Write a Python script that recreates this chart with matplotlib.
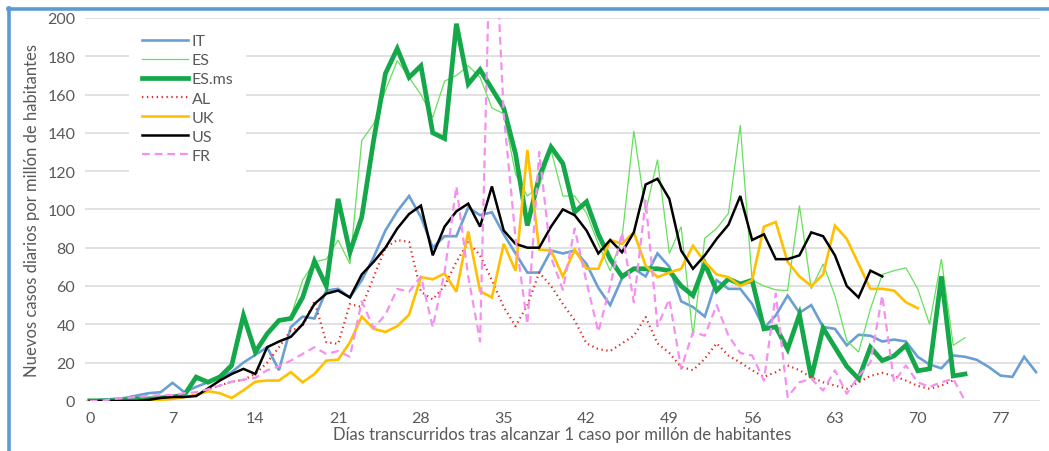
import matplotlib
matplotlib.use("Agg")
import matplotlib.pyplot as plt
from matplotlib.lines import Line2D

plt.rcParams["font.family"] = ["Lato", "DejaVu Sans"]

# días desde 1 caso por millón
it = [0, 0.5, 1, 1.5, 2.8, 4, 4.5, 9.4, 4.5, 7.3,
      9.7, 12, 15, 20, 24, 28, 16, 38.5, 44, 43,
      57.6, 58.5, 54, 63, 75, 89, 99, 107, 96, 80,
      86, 86, 101, 97, 98.5, 87, 77, 67, 67, 78.5,
      77, 78.5, 71.5, 59, 50, 64, 69, 65, 77, 70,
      52, 49, 44, 63, 58.5, 58.5, 50.6, 38, 44.6, 55,
      46, 50, 38.6, 37.6, 29, 34.5, 34, 31, 32, 31,
      23, 19, 17, 23.7, 23, 21.4, 17.7, 13.2, 12.5, 23, 15]
es = [0, 0, 0, 0.5, 1, 1, 1.5, 2, 3, 11,
      10, 12, 17, 43, 26, 35, 41, 44, 63, 72.6,
      74, 84, 71.5, 136, 144.6, 162, 177.7, 169, 160, 148,
      167, 170, 175, 169, 153, 150, 118.5, 107, 112, 131,
      107, 107, 98, 82, 68, 85, 141, 98.6, 126, 77,
      91, 34, 85, 90, 98, 144, 63, 60, 58, 57.6,
      102, 58.5, 71.5, 55, 31.5, 25.5, 48, 66, 68, 69.5,
      58.5, 40, 74, 29, 33]
es_ms = [0, 0, 0, 0.5, 1, 1, 1.5, 2, 3, 12.4,
         9.7, 12.5, 18.5, 44.6, 25.5, 35, 42, 43, 54, 73,
         60, 105.5, 77.6, 96, 136, 171, 184, 169, 175, 140,
         137, 197, 165.5, 173, 163, 153, 129, 91.6, 117, 132.6,
         124, 98.6, 104, 87, 74, 65, 69, 69, 69, 68,
         60, 55, 71.5, 57.6, 63.7, 61, 63, 37.6, 38.6, 27,
         45, 12, 38, 28, 18, 11.5, 28, 21, 23.5, 29,
         15.7, 16.7, 65, 13, 14]
al = [0, 0, 0, 0, 0, 0.5, 1, 1.5, 2, 3,
      6, 8, 10, 11, 14, 20, 28, 36.7, 39, 52,
      30.6, 29.8, 50.6, 49, 64.6, 80, 84, 83, 57, 53,
      60, 72.6, 83, 76, 63, 49, 39, 50, 67, 60,
      50.6, 42, 30, 27, 26, 30, 34, 43.7, 30, 25,
      17.7, 16, 22, 30, 23.7, 20, 16, 12.5, 15, 18.5,
      16, 12.3, 9.7, 8, 6.3, 9.7, 13, 14.6, 13, 10.6,
      7.8, 6.3, 8, 10.6]
uk = [0, 0, 0, 0, 0, 0, 0.5, 1, 2, 3,
      5, 4, 1.5, 5.5, 10, 10.6, 10.6, 15, 9.7, 14,
      21, 21.5, 30.6, 44, 37.6, 36, 39, 45, 64.6, 63.5,
      66.5, 57, 88.5, 57.3, 54, 82, 68, 131, 79, 78.5,
      65, 79, 69, 69, 84, 82, 88, 70.6, 64.6, 67,
      69, 81, 72.6, 66, 64.6, 60, 63, 91, 93.4, 72.6,
      65, 60, 66, 91.5, 84.6, 71.5, 58.5, 58.5, 57.6, 51.5,
      48.4]
us = [0, 0, 0, 0, 0, 0.5, 1.5, 2, 2, 2.5,
      6.5, 10.6, 14, 16.7, 14, 28, 31, 33.4, 40, 50.6,
      56, 57.6, 54, 66, 72.6, 80, 90, 97.6, 102, 76,
      91, 99, 103, 91, 112, 89, 82, 80, 80, 91,
      100, 97, 89, 77, 84, 77.6, 88, 113, 116, 105.5,
      78.5, 69, 76, 84.6, 92, 107, 84, 87, 74, 74,
      76, 88, 86, 76, 60, 54, 68, 65]
fr = [0, 0, 1, 1.5, 2, 2.5, 3, 3, 4, 4.5,
      6, 8, 10, 11, 12, 16, 18, 21, 24.5, 28,
      24.5, 26, 23, 52, 38, 45, 58.5, 57, 65, 38.5,
      67, 112, 65, 31, 280, 150, 85, 40, 130, 75,
      58, 90, 62, 36, 60, 88, 51.5, 104.6, 39, 53,
      16.7, 36, 34, 50, 34, 25, 23.7, 10.6, 56, 2,
      9.7, 11.5, 5.4, 16, 3.7, 13, 20, 55, 9.7, 18.5,
      9.7, 7.3, 9.7, 11.5, 0]

series = [
    ("IT", it, dict(color="#6A9FD3", lw=1.9)),
    ("ES", es, dict(color="#66E05C", lw=0.9)),
    ("ES.ms", es_ms, dict(color="#14A84A", lw=3.4)),
    ("AL", al, dict(color="#E02A22", lw=1.6, linestyle=(0, (0.6, 1.6)))),
    ("UK", uk, dict(color="#FFC000", lw=1.9)),
    ("US", us, dict(color="black", lw=1.8)),
    ("FR", fr, dict(color="#F490F0", lw=1.6, linestyle=(0, (3.5, 2.2)))),
]

gray = "#595959"
fig = plt.figure(figsize=(10.49, 4.52), dpi=100)
ax = fig.add_axes([0.081, 0.111, 0.91, 0.847])

for name, vals, style in series:
    ax.plot(range(len(vals)), vals, label=name, solid_joinstyle="miter", **style)

ax.set_xlim(-0.4, 80.3)
ax.set_ylim(0, 200)
ax.set_xticks(range(0, 78, 7))
ax.set_yticks(range(0, 201, 20))
ax.grid(axis="y", color="#D9D9D9", lw=1.1)
ax.set_axisbelow(True)
for s in ax.spines.values():
    s.set_visible(False)
ax.tick_params(length=0, colors=gray, labelsize=11.5, pad=7)

ax.set_ylabel("Nuevos casos diarios por millón de habitantes", color=gray, fontsize=12, labelpad=5)
ax.set_xlabel("Días transcurridos tras alcanzar 1 caso por millón de habitantes", color=gray, fontsize=12, labelpad=1)

leg = ax.legend(loc="upper left", bbox_to_anchor=(0.123, 0.951), bbox_transform=fig.transFigure,
                frameon=True, facecolor="white", edgecolor="none", framealpha=1,
                fontsize=11.5, handlelength=2.9, handletextpad=0.22, labelspacing=0.31,
                borderpad=0.8, borderaxespad=0)
for t in leg.get_texts():
    t.set_color(gray)

# marco azul
fig.add_artist(Line2D([0.0085, 0.0085], [0, 0.98], transform=fig.transFigure, color="#5B9BD5", lw=2.6))
fig.add_artist(Line2D([0.0075, 1], [0.978, 0.978], transform=fig.transFigure, color="#5B9BD5", lw=2.6))

fig.savefig("out.png", dpi=100)
plt.close(fig)
